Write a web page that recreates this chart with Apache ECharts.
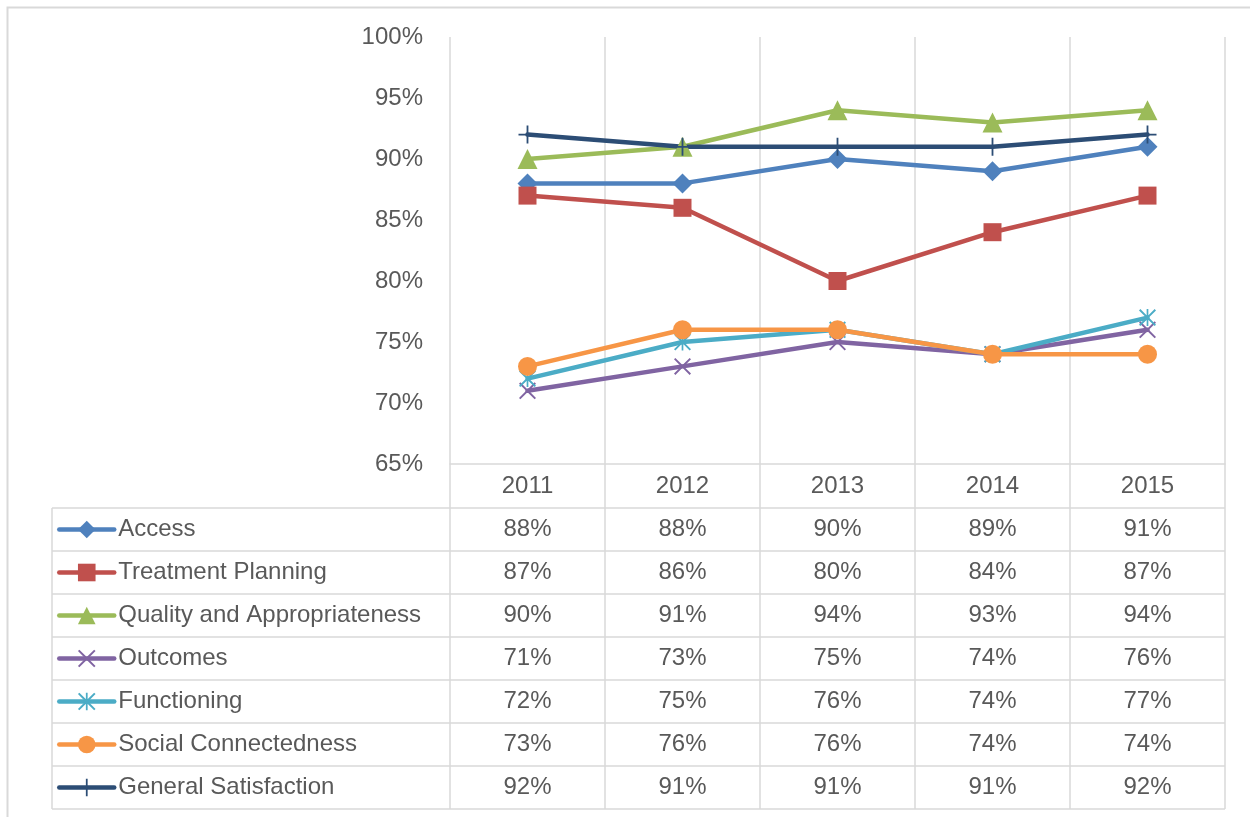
<!DOCTYPE html>
<html>
<head>
<meta charset="utf-8">
<script src="https://cdn.jsdelivr.net/npm/echarts@6/dist/echarts.min.js"></script>
<style>
  html, body { margin: 0; padding: 0; background: #ffffff; }
  #chart { width: 1250px; height: 817px; }
</style>
</head>
<body>
<div id="chart"></div>
<script>
// ---- data ----
const categories = ['2011', '2012', '2013', '2014', '2015'];
const seriesNames = ['Access', 'Treatment Planning', 'Quality and Appropriateness', 'Outcomes', 'Functioning', 'Social Connectedness', 'General Satisfaction'];
const access = [88, 88, 90, 89, 91];
const treatmentPlanning = [87, 86, 80, 84, 87];
const qualityAppropriateness = [90, 91, 94, 93, 94];
const outcomes = [71, 73, 75, 74, 76];
const functioning = [72, 75, 76, 74, 77];
const socialConnectedness = [73, 76, 76, 74, 74];
const generalSatisfaction = [92, 91, 91, 91, 92];
const yMin = 65, yMax = 100, yStep = 5;

// ---- styles ----
const colors = ['#4F81BD', '#C0504D', '#9BBB59', '#8064A2', '#4BACC6', '#F79646', '#2C4D75'];
const X_PATH = 'path://M0,1.6 L1.6,0 L10,8.4 L18.4,0 L20,1.6 L11.6,10 L20,18.4 L18.4,20 L10,11.6 L1.6,20 L0,18.4 L8.4,10 Z';
const STAR_PATH = 'path://M0,1.6 L1.6,0 L10,8.4 L18.4,0 L20,1.6 L11.6,10 L20,18.4 L18.4,20 L10,11.6 L1.6,20 L0,18.4 L8.4,10 Z M9,0 L11,0 L11,20 L9,20 Z';
const PLUS_PATH = 'path://M9,0 L11,0 L11,9 L20,9 L20,11 L11,11 L11,20 L9,20 L9,11 L0,11 L0,9 L9,9 Z';
const symbols = ['diamond', 'rect', 'triangle', X_PATH, STAR_PATH, 'circle', PLUS_PATH];
const symbolSizes = [20, 18, 20, 17, 17, 19, 18];
const dataSets = [access, treatmentPlanning, qualityAppropriateness, outcomes, functioning, socialConnectedness, generalSatisfaction];

const FONT = 'Liberation Sans';
const TEXT_COLOR = '#595959';
const GRID_COLOR = '#D9D9D9';
const FS = 24;

const gridLeft = 450, gridRight = 25, gridTop = 37, gridBottom = 353;
const headerH = 44, rowH = 43, tableLeft = 52;

const chart = echarts.init(document.getElementById('chart'), null, { renderer: 'canvas' });

const series = seriesNames.map((name, i) => ({
  name: name,
  type: 'line',
  data: dataSets[i],
  symbol: symbols[i],
  symbolSize: symbolSizes[i],
  symbolKeepAspect: true,
  showAllSymbol: true,
  lineStyle: { color: colors[i], width: 4.5, cap: 'round' },
  itemStyle: { color: colors[i] },
  emphasis: { disabled: true },
  animation: false
}));

const legendData = seriesNames.map((name, i) => ({
  name: name,
  itemStyle: { color: colors[i] },
  lineStyle: { color: colors[i], width: 4.5, cap: 'round' }
}));

chart.setOption({
  animation: false,
  backgroundColor: '#ffffff',
  textStyle: { fontFamily: FONT },
  grid: { left: gridLeft, right: gridRight, top: gridTop, bottom: gridBottom, containLabel: false },
  xAxis: {
    type: 'category',
    data: categories,
    boundaryGap: true,
    axisLine: { show: true, lineStyle: { color: GRID_COLOR, width: 1.5 } },
    axisTick: { show: false },
    axisLabel: { color: TEXT_COLOR, fontSize: FS, fontFamily: FONT, margin: 10, lineHeight: 24 },
    splitLine: { show: true, lineStyle: { color: GRID_COLOR, width: 1.5 } }
  },
  yAxis: {
    type: 'value',
    min: yMin,
    max: yMax,
    interval: yStep,
    axisLine: { show: false },
    axisTick: { show: false },
    splitLine: { show: false },
    axisLabel: { color: TEXT_COLOR, fontSize: FS, fontFamily: FONT, margin: 27, formatter: '{value}%' }
  },
  legend: {
    orient: 'vertical',
    left: 57,
    top: 817 - gridBottom + headerH + rowH / 2 - 12,
    padding: 0,
    itemWidth: 55,
    itemHeight: 22,
    itemGap: rowH - 24,
    selectedMode: false,
    textStyle: { color: TEXT_COLOR, fontSize: FS, fontFamily: FONT, lineHeight: 24, padding: [0, 0, 0, -1] },
    data: legendData
  },
  series: series
});

// ---- data table drawn below the plot ----
const graphics = [];
const centers = categories.map((c, i) => chart.convertToPixel({ xAxisIndex: 0 }, i));
const band = centers[1] - centers[0];
const yBottom = chart.convertToPixel({ yAxisIndex: 0 }, yMin);
const xLeft = centers[0] - band / 2;
const xRight = centers[centers.length - 1] + band / 2;
const firstRowTop = yBottom + headerH;
const tableBottom = firstRowTop + rowH * seriesNames.length;
const lineStyle = { stroke: GRID_COLOR, lineWidth: 1.5 };

// outer frame
graphics.push({ type: 'polyline', shape: { points: [[7.5, 820], [7.5, 7.5], [1255, 7.5]] }, style: { stroke: GRID_COLOR, lineWidth: 2, fill: null }, silent: true });

// horizontal table lines
for (let r = 0; r <= seriesNames.length; r++) {
  const y = firstRowTop + r * rowH;
  graphics.push({ type: 'line', shape: { x1: tableLeft, y1: y, x2: xRight, y2: y }, style: lineStyle, silent: true });
}
// vertical table lines (continuation of category boundaries)
for (let k = 0; k <= categories.length; k++) {
  const x = xLeft + k * band;
  graphics.push({ type: 'line', shape: { x1: x, y1: yBottom, x2: x, y2: tableBottom }, style: lineStyle, silent: true });
}
graphics.push({ type: 'line', shape: { x1: tableLeft, y1: firstRowTop, x2: tableLeft, y2: tableBottom }, style: lineStyle, silent: true });

// values
dataSets.forEach((arr, r) => {
  const cy = firstRowTop + r * rowH + rowH / 2;
  arr.forEach((v, i) => {
    graphics.push({
      type: 'text',
      x: centers[i],
      y: cy,
      silent: true,
      style: { text: v + '%', fill: TEXT_COLOR, font: FS + 'px "' + FONT + '"', textAlign: 'center', textVerticalAlign: 'middle', align: 'center', verticalAlign: 'middle' }
    });
  });
});

chart.setOption({ graphic: graphics });
</script>
</body>
</html>
